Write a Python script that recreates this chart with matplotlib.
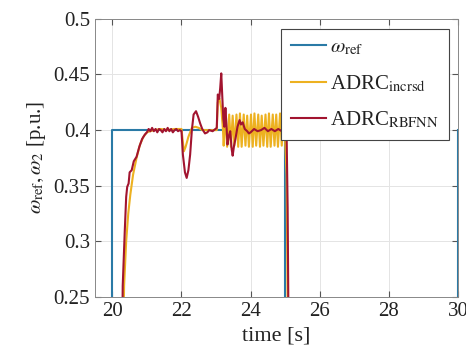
import matplotlib
matplotlib.use("Agg")
import matplotlib.pyplot as plt
from matplotlib.ticker import FuncFormatter

# reference speed
t_ref = [19.5, 20.0, 20.0, 25.0, 25.0, 30.0, 30.0]
w_ref = [0.0, 0.0, 0.4, 0.4, 0.0, 0.0, 0.4]

# ADRC with increased gains
t_inc = [20.31, 20.34, 20.40, 20.46, 20.52, 20.60, 20.70, 20.80, 20.90, 21.00,
         21.2, 21.4, 21.6, 21.8, 22.0, 22.03, 22.07, 22.12, 22.20, 22.30,
         22.40, 22.50, 22.60, 22.80, 23.02, 23.05, 23.10, 23.15, 23.20,
         23.22, 23.27, 23.32, 23.38, 23.43, 23.48, 23.53, 23.59, 23.64, 23.69,
         23.74, 23.80, 23.85, 23.90, 23.95, 24.01, 24.06, 24.11, 24.16, 24.22,
         24.27, 24.32, 24.37, 24.43, 24.48, 24.53, 24.58, 24.64, 24.69, 24.74,
         24.79, 24.85, 24.90, 24.95, 25.00, 25.04, 25.08]
w_inc = [0.20, 0.26, 0.30, 0.325, 0.342, 0.360, 0.375, 0.387, 0.394, 0.398,
         0.400, 0.401, 0.400, 0.401, 0.401, 0.392, 0.381, 0.385, 0.394, 0.402,
         0.403, 0.402, 0.400, 0.400, 0.400, 0.425, 0.428, 0.420, 0.400,
         0.386, 0.413, 0.385, 0.414, 0.385, 0.413, 0.386, 0.414, 0.385, 0.415,
         0.385, 0.414, 0.386, 0.413, 0.385, 0.414, 0.385, 0.415, 0.386, 0.414,
         0.385, 0.413, 0.386, 0.414, 0.385, 0.415, 0.385, 0.414, 0.386, 0.414,
         0.385, 0.415, 0.386, 0.414, 0.390, 0.360, 0.20]

# ADRC with RBF neural network
t_rbf = [20.28, 20.30, 20.36, 20.40, 20.43, 20.47, 20.50, 20.56, 20.62, 20.70,
         20.78, 20.86, 20.94, 21.00, 21.05, 21.10, 21.15, 21.20, 21.25, 21.30,
         21.35, 21.40, 21.45, 21.50, 21.55, 21.60, 21.65, 21.70, 21.75, 21.80,
         21.85, 21.90, 21.95, 22.00, 22.04, 22.10, 22.15, 22.20, 22.25, 22.30,
         22.35, 22.42, 22.48, 22.54, 22.60, 22.68, 22.75, 22.80, 22.90, 22.98,
         23.02, 23.05, 23.09, 23.12, 23.15, 23.18, 23.21, 23.24, 23.27, 23.30,
         23.33, 23.37, 23.41, 23.45, 23.48, 23.52, 23.56, 23.62, 23.68, 23.72,
         23.77, 23.83, 23.90, 23.95, 24.00, 24.10, 24.20, 24.30, 24.40, 24.50,
         24.60, 24.70, 24.80, 24.90, 25.00, 25.04, 25.07, 25.10]
w_rbf = [0.20, 0.26, 0.31, 0.34, 0.349, 0.352, 0.362, 0.364, 0.372, 0.376,
         0.385, 0.392, 0.396, 0.398, 0.401, 0.399, 0.402, 0.399, 0.401, 0.398,
         0.401, 0.400, 0.398, 0.401, 0.399, 0.402, 0.399, 0.401, 0.398, 0.400,
         0.401, 0.399, 0.400, 0.399, 0.378, 0.362, 0.357, 0.364, 0.378, 0.400,
         0.414, 0.417, 0.412, 0.406, 0.401, 0.397, 0.398, 0.400, 0.399, 0.401,
         0.402, 0.432, 0.428, 0.438, 0.451, 0.430, 0.410, 0.403, 0.420, 0.405,
         0.387, 0.395, 0.399, 0.383, 0.377, 0.386, 0.392, 0.403, 0.409, 0.405,
         0.407, 0.401, 0.399, 0.397, 0.398, 0.401, 0.399, 0.400, 0.402, 0.399,
         0.401, 0.399, 0.401, 0.399, 0.400, 0.398, 0.33, 0.20]

plt.rcParams['font.family'] = ['Liberation Serif', 'DejaVu Serif']
plt.rcParams['mathtext.fontset'] = 'stix'

fig = plt.figure(figsize=(4.66, 3.63), dpi=100)
ax = fig.add_axes([0.204, 0.182, 0.779, 0.766])

ax.plot(t_ref, w_ref, color='#2a7aa6', lw=1.5, label=r'$\omega_{\rm ref}$')
ax.plot(t_inc, w_inc, color='#EDB120', lw=1.5, label=r'ADRC$_{\rm incrsd}$')
ax.plot(t_rbf, w_rbf, color='#A2142F', lw=1.5, label=r'ADRC$_{\rm RBFNN}$')

ax.set_xlim(19.5, 30)
ax.set_ylim(0.25, 0.5)
ax.set_xticks([20, 22, 24, 26, 28, 30])
ax.set_yticks([0.25, 0.3, 0.35, 0.4, 0.45, 0.5])
ax.yaxis.set_major_formatter(FuncFormatter(lambda v, p: '%g' % v))
ax.grid(True, color='#e4e4e4', lw=0.7)
ax.tick_params(direction='in', top=True, right=True, labelsize=15,
               color='#555555', length=4, labelcolor='#222222')
for s in ax.spines.values():
    s.set_color('#888888')
    s.set_linewidth(0.7)

ax.set_xlabel('time [s]', fontsize=16, color='#222222')
ax.set_ylabel(r'$\omega_{\rm ref}, \omega_2$ [p.u.]', fontsize=15, color='#222222')

leg = ax.legend(loc='upper right', bbox_to_anchor=(0.974, 0.965), borderaxespad=0,
                fontsize=15, fancybox=False, edgecolor='#444444', framealpha=1,
                handlelength=1.7, handletextpad=0.2, labelspacing=0.75,
                borderpad=0.45)
leg.get_frame().set_linewidth(0.8)
for txt in leg.get_texts():
    txt.set_color('#222222')

fig.savefig('out.png', dpi=100)
